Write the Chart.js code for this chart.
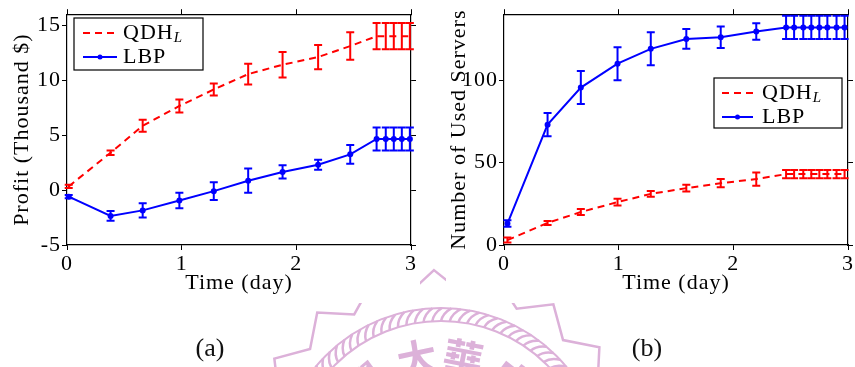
<!DOCTYPE html>
<html>
<head>
<meta charset="utf-8">
<title>Profit and used servers over time</title>
<script src="https://cdn.jsdelivr.net/npm/chart.js@4.4.0/dist/chart.umd.min.js"></script>
<style>
  html, body { margin: 0; padding: 0; background: #fff; }
  #page { position: relative; width: 855px; height: 367px; overflow: hidden; }
  #seal { position: absolute; left: 0; top: 0; }
  .plot { position: absolute; top: 0; height: 303px; background: #fff; }
  #wrapA { left: 0; width: 420px; }
  #wrapB { left: 446px; width: 409px; }
  .cap {
    position: absolute; top: 333px; transform: translateX(-50%);
    font-family: "Liberation Serif", serif; font-size: 26px; line-height: 30px; color: #111;
  }
</style>
</head>
<body>
<div id="page">
  <canvas id="seal" width="855" height="367"></canvas>
  <div class="plot" id="wrapA"><canvas id="chartA" width="420" height="303"></canvas></div>
  <div class="plot" id="wrapB"><canvas id="chartB" width="409" height="303"></canvas></div>
  <div class="cap" style="left:210px">(a)</div>
  <div class="cap" style="left:647px">(b)</div>
</div>
<script>
const FONT = "Liberation Serif";

// (a) profit
const timeA = [0.015, 0.38, 0.66, 0.98, 1.28, 1.58, 1.88, 2.19, 2.47, 2.70, 2.78, 2.85, 2.92, 2.99];
const profitQDH = [0.33, 3.4, 5.85, 7.65, 9.15, 10.55, 11.4, 12.1, 13.1, 14.0, 14.0, 14.0, 14.0, 14.0];
const profitQDHErr = [0.15, 0.2, 0.55, 0.6, 0.55, 0.95, 1.15, 1.1, 1.25, 1.2, 1.2, 1.2, 1.2, 1.2];
const profitLBP = [-0.6, -2.35, -1.85, -0.95, -0.1, 0.85, 1.65, 2.3, 3.25, 4.65, 4.65, 4.65, 4.65, 4.65];
const profitLBPErr = [0.15, 0.45, 0.65, 0.7, 0.8, 1.1, 0.6, 0.45, 0.85, 1.05, 1.05, 1.05, 1.05, 1.05];
const profitTicks = [-5, 0, 5, 10, 15];

// (b) used servers
const timeB = [0.03, 0.38, 0.67, 0.99, 1.28, 1.59, 1.89, 2.2, 2.46, 2.53, 2.61, 2.68, 2.75, 2.82, 2.9, 2.97];
const serversQDH = [3, 13.4, 20, 26, 31, 34.5, 37.5, 40, 43, 43, 43, 43, 43, 43, 43, 43];
const serversQDHErr = [1.5, 1.2, 1.8, 2, 1.8, 2, 2.5, 4, 2.5, 2.5, 2.5, 2.5, 2.5, 2.5, 2.5, 2.5];
const serversLBP = [13, 73, 95.5, 110, 119, 125, 126, 129.5, 132, 132, 132, 132, 132, 132, 132, 132];
const serversLBPErr = [2, 7, 10, 10, 10, 6, 6.5, 5, 7, 7, 7, 7, 7, 7, 7, 7];
const serverTicks = [0, 50, 100];

const dayTicks = [0, 1, 2, 3];

// vertical error bars with caps, placed through the chart scales
const errorBars = {
  id: "errorBars",
  afterDatasetsDraw(chart) {
    const { ctx, scales: { x, y } } = chart;
    ctx.save();
    ctx.lineWidth = 2;
    chart.data.datasets.forEach((ds) => {
      ctx.strokeStyle = ds.borderColor;
      ds.data.forEach((p, j) => {
        const px = x.getPixelForValue(p.x);
        const hi = y.getPixelForValue(p.y + ds.errors[j]);
        const lo = y.getPixelForValue(p.y - ds.errors[j]);
        ctx.beginPath();
        ctx.moveTo(px, hi); ctx.lineTo(px, lo);
        ctx.moveTo(px - 4, hi); ctx.lineTo(px + 4, hi);
        ctx.moveTo(px - 4, lo); ctx.lineTo(px + 4, lo);
        ctx.stroke();
      });
    });
    ctx.restore();
  },
};

// boxed legend drawn inside the plot, "QDH_L" gets an italic subscript
const boxLegend = {
  id: "boxLegend",
  beforeDraw(chart) {
    chart.ctx.letterSpacing = "1px";
  },
  afterDraw(chart, args, opts) {
    const { ctx } = chart;
    const { left, top, width, height } = opts;
    ctx.save();
    ctx.fillStyle = "#fff";
    ctx.fillRect(left, top, width, height);
    ctx.strokeStyle = "#000";
    ctx.lineWidth = 1.2;
    ctx.strokeRect(left, top, width, height);
    chart.data.datasets.forEach((ds, i) => {
      const cy = top + opts.rows[i];
      const x0 = left + opts.lineFrom;
      const x1 = left + opts.lineTo;
      ctx.strokeStyle = ds.borderColor;
      ctx.lineWidth = 2;
      ctx.setLineDash(ds.borderDash || []);
      ctx.beginPath();
      ctx.moveTo(x0, cy);
      ctx.lineTo(x1, cy);
      ctx.stroke();
      ctx.setLineDash([]);
      if (ds.pointRadius > 0) {
        ctx.fillStyle = ds.borderColor;
        ctx.beginPath();
        ctx.arc((x0 + x1) / 2, cy, 2.5, 0, Math.PI * 2);
        ctx.fill();
      }
      const [main, sub] = ds.label.split("_");
      ctx.fillStyle = "#000";
      ctx.textBaseline = "middle";
      ctx.textAlign = "left";
      ctx.font = `22px "${FONT}"`;
      const tx = left + opts.textAt;
      ctx.fillText(main, tx, cy);
      if (sub) {
        const w = ctx.measureText(main).width;
        ctx.font = `italic 15px "${FONT}"`;
        ctx.fillText(sub, tx + w, cy + 5);
      }
    });
    ctx.restore();
  },
};

function buildScales(yMin, yMax, yTicks, yTitle, yTitlePad, rightWidth) {
  const tickFont = { family: FONT, size: 22 };
  const titleFont = { family: FONT, size: 22 };
  const grid = { drawOnChartArea: false, tickLength: 5, tickColor: "#000", tickWidth: 1 };
  const border = { color: "#000", width: 1.2 };
  const setX = (s) => { s.ticks = dayTicks.map((v) => ({ value: v })); };
  const setY = (s) => { s.ticks = yTicks.map((v) => ({ value: v })); };
  return {
    x: {
      type: "linear", position: "bottom", min: 0, max: 3, grid, border,
      afterBuildTicks: setX,
      ticks: { font: tickFont, color: "#000", padding: 1, maxRotation: 0 },
      title: { display: true, text: "Time (day)", font: titleFont, color: "#000", padding: { top: 0, bottom: 7 } },
      afterFit: (s) => { s.height = 58; },
    },
    xTop: {
      type: "linear", position: "top", min: 0, max: 3, grid, border,
      afterBuildTicks: setX,
      ticks: { display: false },
      afterFit: (s) => { s.height = 12; },
    },
    y: {
      type: "linear", position: "left", min: yMin, max: yMax, grid, border,
      afterBuildTicks: setY,
      ticks: { font: tickFont, color: "#000", padding: 1 },
      title: { display: true, text: yTitle, font: titleFont, color: "#000", padding: { top: yTitlePad, bottom: 0 } },
      afterFit: (s) => { s.width = s.chart.options.plotLeft; },
    },
    yRight: {
      type: "linear", position: "right", min: yMin, max: yMax, grid, border,
      afterBuildTicks: setY,
      ticks: { display: false },
      afterFit: (s) => { s.width = rightWidth; },
    },
  };
}

function series(times, values, errors, label, color, dashed) {
  return {
    label: label,
    data: times.map((t, i) => ({ x: t, y: values[i] })),
    errors: errors,
    borderColor: color,
    backgroundColor: color,
    borderWidth: 2,
    borderDash: dashed ? [7, 5] : [],
    pointRadius: dashed ? 0 : 3,
    pointBorderWidth: 0,
    pointBackgroundColor: color,
    tension: 0,
    clip: false,
  };
}

function makeChart(id, datasets, scales, plotLeft, legendBox) {
  return new Chart(document.getElementById(id).getContext("2d"), {
    type: "line",
    data: { datasets: datasets },
    options: {
      responsive: false,
      animation: false,
      plotLeft: plotLeft,
      layout: { padding: 0 },
      scales: scales,
      plugins: {
        legend: { display: false },
        tooltip: { enabled: false },
        boxLegend: legendBox,
      },
    },
    plugins: [errorBars, boxLegend],
  });
}

// faint university seal behind the figure
function drawSeal() {
  const g = document.getElementById("seal").getContext("2d");
  const cx = 441, cy = 471;
  const col = "#dcb1d9";
  g.strokeStyle = col;
  g.fillStyle = col;
  g.lineWidth = 2.5;
  g.beginPath();
  for (let k = 0; k <= 40; k++) {
    const a = -Math.PI / 2 - 0.035 + (k * Math.PI) / 20;
    const r = k % 2 ? 179 : 201;
    const px = cx + r * Math.cos(a), py = cy + r * Math.sin(a);
    if (k === 0) g.moveTo(px, py); else g.lineTo(px, py);
  }
  g.closePath();
  g.stroke();

  // twisted rope ring
  g.lineWidth = 2;
  [150, 163].forEach((r) => {
    g.beginPath();
    g.arc(cx, cy, r, 0, Math.PI * 2);
    g.stroke();
  });
  const step = Math.PI / 54;
  g.lineWidth = 2.5;
  for (let a = 0; a < Math.PI * 2; a += step) {
    g.beginPath();
    g.moveTo(cx + 150 * Math.cos(a), cy + 150 * Math.sin(a));
    g.quadraticCurveTo(
      cx + 158 * Math.cos(a + step * 0.2), cy + 158 * Math.sin(a + step * 0.2),
      cx + 163 * Math.cos(a + step * 1.1), cy + 163 * Math.sin(a + step * 1.1)
    );
    g.stroke();
  }

  g.font = 'bold 40px "Noto Sans CJK TC"';
  g.textAlign = "center";
  g.textBaseline = "middle";
  [["學", -40], ["大", -12], ["華", 11], ["中", 38]].forEach(([ch, deg]) => {
    const a = (deg * Math.PI) / 180;
    g.save();
    g.translate(cx + 115 * Math.sin(a), cy - 115 * Math.cos(a));
    g.rotate(a);
    g.fillText(ch, 0, 0);
    g.restore();
  });
}

document.addEventListener("DOMContentLoaded", function () {
  drawSeal();

  makeChart(
    "chartA",
    [
      series(timeA, profitQDH, profitQDHErr, "QDH_L", "#ff0000", true),
      series(timeA, profitLBP, profitLBPErr, "LBP", "#0000ff", false),
    ],
    buildScales(-5, 16, profitTicks, "Profit (Thousand $)", 9, 9),
    67,
    { left: 74, top: 18, width: 129, height: 52, rows: [15, 39], lineFrom: 9, lineTo: 43, textAt: 49 }
  );

  makeChart(
    "chartB",
    [
      series(timeB, serversQDH, serversQDHErr, "QDH_L", "#ff0000", true),
      series(timeB, serversLBP, serversLBPErr, "LBP", "#0000ff", false),
    ],
    buildScales(0, 140, serverTicks, "Number of Used Servers", 0, 7),
    58,
    { left: 268, top: 78, width: 128, height: 50, rows: [15, 39], lineFrom: 8, lineTo: 39, textAt: 48 }
  );
});
</script>
</body>
</html>
